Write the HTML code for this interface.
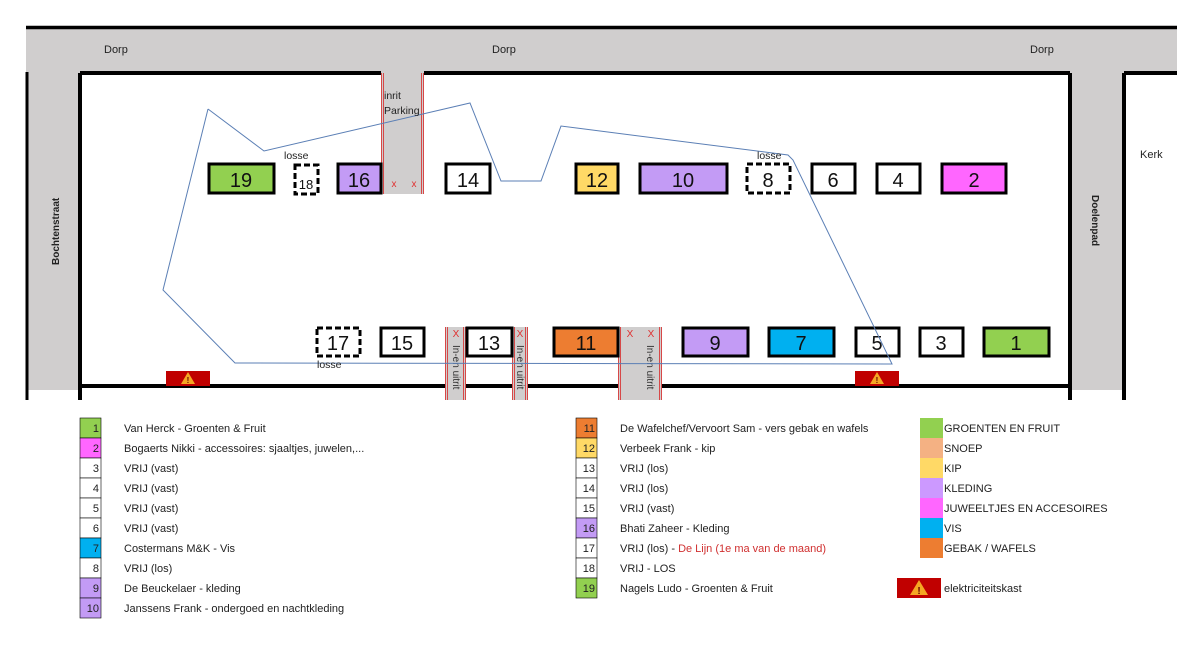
<!DOCTYPE html>
<html><head><meta charset="utf-8"><style>
html,body{margin:0;padding:0;background:#fff;}
svg{display:block;font-family:"Liberation Sans",sans-serif;}
.n{font-size:20px;text-anchor:middle;fill:#111;}
.l{font-size:11px;fill:#222;}
.c{font-size:11px;fill:#222;text-anchor:end;}
</style></head><body>
<svg width="1200" height="657" viewBox="0 0 1200 657">
<defs>
<g id="warn"><rect x="-22" y="0" width="44" height="15" fill="#c00000"/><polygon points="0,1 -7,13 7,13" fill="#f5a623"/><text x="0" y="12" font-size="8" text-anchor="middle" fill="#600" font-weight="bold">!</text></g>
</defs>
<rect x="26" y="27" width="1151" height="46" fill="#d0cece"/>
<rect x="26" y="27" width="54" height="363" fill="#d0cece"/>
<rect x="1070" y="27" width="54" height="363" fill="#d0cece"/>
<rect x="381" y="72" width="43" height="122" fill="#d0cece"/>
<line x1="26" y1="27.5" x2="1177" y2="27.5" stroke="#000" stroke-width="3.5"/>
<g stroke="#000" stroke-width="4" fill="none">
<line x1="80" y1="73" x2="381" y2="73"/>
<line x1="424" y1="73" x2="1070" y2="73"/>
<line x1="1124" y1="73" x2="1177" y2="73"/>
<line x1="80" y1="73" x2="80" y2="400"/>
<line x1="1070" y1="73" x2="1070" y2="400"/>
<line x1="1124" y1="73" x2="1124" y2="400"/>
<line x1="80" y1="386" x2="445" y2="386"/>
<line x1="466" y1="386" x2="512" y2="386"/>
<line x1="528" y1="386" x2="618" y2="386"/>
<line x1="662" y1="386" x2="1070" y2="386"/>
</g>
<line x1="27" y1="72" x2="27" y2="400" stroke="#000" stroke-width="3"/>
<rect x="445" y="327" width="21" height="73" fill="#d0cece"/>
<rect x="512" y="327" width="16" height="73" fill="#d0cece"/>
<rect x="618" y="327" width="44" height="73" fill="#d0cece"/>
<g stroke="#d83a3a" stroke-width="0.9">
<line x1="381.5" y1="73" x2="381.5" y2="194"/><line x1="383.5" y1="73" x2="383.5" y2="194"/>
<line x1="421.5" y1="73" x2="421.5" y2="194"/><line x1="423.5" y1="73" x2="423.5" y2="194"/>
<line x1="445.5" y1="327" x2="445.5" y2="400"/><line x1="447.5" y1="327" x2="447.5" y2="400"/>
<line x1="463.5" y1="327" x2="463.5" y2="400"/><line x1="465.5" y1="327" x2="465.5" y2="400"/>
<line x1="512.5" y1="327" x2="512.5" y2="400"/><line x1="514.5" y1="327" x2="514.5" y2="400"/>
<line x1="525.5" y1="327" x2="525.5" y2="400"/><line x1="527.5" y1="327" x2="527.5" y2="400"/>
<line x1="618.5" y1="327" x2="618.5" y2="400"/><line x1="620.5" y1="327" x2="620.5" y2="400"/>
<line x1="659.5" y1="327" x2="659.5" y2="400"/><line x1="661.5" y1="327" x2="661.5" y2="400"/>
</g>
<g fill="#e03030" font-size="10" text-anchor="middle">
<text x="394" y="187">x</text><text x="414" y="187">x</text>
<text x="456" y="337">X</text><text x="520" y="337">X</text>
<text x="630" y="337">X</text><text x="651" y="337">X</text>
</g>
<g font-size="10" fill="#333">
<text transform="translate(453,345) rotate(90)">In-en uitrit</text>
<text transform="translate(517,345) rotate(90)">In-en uitrit</text>
<text transform="translate(647,345) rotate(90)">In-en uitrit</text>
</g>
<g stroke="#000" stroke-width="3">
<rect x="209" y="164" width="65" height="29" fill="#92d050"/>
<rect x="338" y="164" width="43" height="29" fill="#c39bf5"/>
<rect x="446" y="164" width="44" height="29" fill="#fff"/>
<rect x="576" y="164" width="42" height="29" fill="#ffd966"/>
<rect x="640" y="164" width="87" height="29" fill="#c39bf5"/>
<rect x="812" y="164" width="43" height="29" fill="#fff"/>
<rect x="877" y="164" width="43" height="29" fill="#fff"/>
<rect x="942" y="164" width="64" height="29" fill="#ff66ff"/>
<rect x="381" y="328" width="43" height="28" fill="#fff"/>
<rect x="467" y="328" width="45" height="28" fill="#fff"/>
<rect x="554" y="328" width="64" height="28" fill="#ed7d31"/>
<rect x="683" y="328" width="65" height="28" fill="#c39bf5"/>
<rect x="769" y="328" width="65" height="28" fill="#00b0f0"/>
<rect x="856" y="328" width="43" height="28" fill="#fff"/>
<rect x="920" y="328" width="43" height="28" fill="#fff"/>
<rect x="984" y="328" width="65" height="28" fill="#92d050"/>
</g>
<g stroke="#000" stroke-width="3" stroke-dasharray="6,3" fill="#fff">
<rect x="295" y="165" width="23" height="29"/>
<rect x="747" y="164" width="43" height="29"/>
<rect x="317" y="328" width="43" height="28"/>
</g>
<g class="n">
<text x="241" y="187" class="n">19</text><text x="306" y="189" style="font-size:13px">18</text>
<text x="359" y="187" class="n">16</text><text x="468" y="187" class="n">14</text>
<text x="597" y="187" class="n">12</text><text x="683" y="187" class="n">10</text>
<text x="768" y="187" class="n">8</text><text x="833" y="187" class="n">6</text>
<text x="898" y="187" class="n">4</text><text x="974" y="187" class="n">2</text>
<text x="338" y="350" class="n">17</text><text x="402" y="350" class="n">15</text>
<text x="489" y="350" class="n">13</text><text x="586" y="350" class="n">11</text>
<text x="715" y="350" class="n">9</text><text x="801" y="350" class="n">7</text>
<text x="877" y="350" class="n">5</text><text x="941" y="350" class="n">3</text>
<text x="1016" y="350" class="n">1</text>
</g>
<use href="#warn" x="188" y="371"/>
<use href="#warn" x="877" y="371"/>
<polyline points="208,109 264,151 470,103 501,181 541,181 561,126 788,155 793,160 892,364 235,363 163,290 208,109" fill="none" stroke="#5b7fb5" stroke-width="1"/>
<g font-size="11" fill="#222">
<text x="104" y="53">Dorp</text><text x="492" y="53">Dorp</text><text x="1030" y="53">Dorp</text>
<text x="1140" y="158">Kerk</text>
<text x="384" y="99" font-size="10.5">inrit</text><text x="384" y="114" font-size="10.5">Parking</text>
<text x="284" y="159" font-size="10.5">losse</text><text x="757" y="159" font-size="10.5">losse</text><text x="317" y="368" font-size="10.5">losse</text>
<text transform="translate(59,265) rotate(-90)" font-weight="bold" font-size="10">Bochtenstraat</text>
<text transform="translate(1092,195) rotate(90)" font-weight="bold" font-size="10">Doelenpad</text>
</g>
<g stroke="#000" stroke-width="0.6">
<rect x="80" y="418" width="21" height="20" fill="#92d050"/>
<rect x="80" y="438" width="21" height="20" fill="#ff66ff"/>
<rect x="80" y="458" width="21" height="20" fill="#fff"/>
<rect x="80" y="478" width="21" height="20" fill="#fff"/>
<rect x="80" y="498" width="21" height="20" fill="#fff"/>
<rect x="80" y="518" width="21" height="20" fill="#fff"/>
<rect x="80" y="538" width="21" height="20" fill="#00b0f0"/>
<rect x="80" y="558" width="21" height="20" fill="#fff"/>
<rect x="80" y="578" width="21" height="20" fill="#c39bf5"/>
<rect x="80" y="598" width="21" height="20" fill="#c39bf5"/>
<rect x="576" y="418" width="21" height="20" fill="#ed7d31"/>
<rect x="576" y="438" width="21" height="20" fill="#ffd966"/>
<rect x="576" y="458" width="21" height="20" fill="#fff"/>
<rect x="576" y="478" width="21" height="20" fill="#fff"/>
<rect x="576" y="498" width="21" height="20" fill="#fff"/>
<rect x="576" y="518" width="21" height="20" fill="#c39bf5"/>
<rect x="576" y="538" width="21" height="20" fill="#fff"/>
<rect x="576" y="558" width="21" height="20" fill="#fff"/>
<rect x="576" y="578" width="21" height="20" fill="#92d050"/>
</g>
<g>
<text class="c" x="99" y="432">1</text><text class="c" x="99" y="452">2</text><text class="c" x="99" y="472">3</text>
<text class="c" x="99" y="492">4</text><text class="c" x="99" y="512">5</text><text class="c" x="99" y="532">6</text>
<text class="c" x="99" y="552">7</text><text class="c" x="99" y="572">8</text><text class="c" x="99" y="592">9</text>
<text class="c" x="99" y="612">10</text>
<text class="c" x="595" y="432">11</text><text class="c" x="595" y="452">12</text><text class="c" x="595" y="472">13</text>
<text class="c" x="595" y="492">14</text><text class="c" x="595" y="512">15</text><text class="c" x="595" y="532">16</text>
<text class="c" x="595" y="552">17</text><text class="c" x="595" y="572">18</text><text class="c" x="595" y="592">19</text>
</g>
<g class="l">
<text class="l" x="124" y="432">Van Herck - Groenten &amp; Fruit</text>
<text class="l" x="124" y="452">Bogaerts Nikki - accessoires: sjaaltjes, juwelen,...</text>
<text class="l" x="124" y="472">VRIJ (vast)</text>
<text class="l" x="124" y="492">VRIJ (vast)</text>
<text class="l" x="124" y="512">VRIJ (vast)</text>
<text class="l" x="124" y="532">VRIJ (vast)</text>
<text class="l" x="124" y="552">Costermans M&amp;K - Vis</text>
<text class="l" x="124" y="572">VRIJ (los)</text>
<text class="l" x="124" y="592">De Beuckelaer - kleding</text>
<text class="l" x="124" y="612">Janssens Frank - ondergoed en nachtkleding</text>
<text class="l" x="620" y="432">De Wafelchef/Vervoort Sam - vers gebak en wafels</text>
<text class="l" x="620" y="452">Verbeek Frank - kip</text>
<text class="l" x="620" y="472">VRIJ (los)</text>
<text class="l" x="620" y="492">VRIJ (los)</text>
<text class="l" x="620" y="512">VRIJ (vast)</text>
<text class="l" x="620" y="532">Bhati Zaheer - Kleding</text>
<text class="l" x="620" y="552">VRIJ (los) - <tspan fill="#d03030">De Lijn (1e ma van de maand)</tspan></text>
<text class="l" x="620" y="572">VRIJ - LOS</text>
<text class="l" x="620" y="592">Nagels Ludo - Groenten &amp; Fruit</text>
</g>
<rect x="920" y="418" width="23" height="20" fill="#92d050"/>
<rect x="920" y="438" width="23" height="20" fill="#f4b183"/>
<rect x="920" y="458" width="23" height="20" fill="#ffd966"/>
<rect x="920" y="478" width="23" height="20" fill="#cc99ff"/>
<rect x="920" y="498" width="23" height="20" fill="#ff66ff"/>
<rect x="920" y="518" width="23" height="20" fill="#00b0f0"/>
<rect x="920" y="538" width="23" height="20" fill="#ed7d31"/>
<g class="l">
<text class="l" x="944" y="432">GROENTEN EN FRUIT</text>
<text class="l" x="944" y="452">SNOEP</text>
<text class="l" x="944" y="472">KIP</text>
<text class="l" x="944" y="492">KLEDING</text>
<text class="l" x="944" y="512">JUWEELTJES EN ACCESOIRES</text>
<text class="l" x="944" y="532">VIS</text>
<text class="l" x="944" y="552">GEBAK / WAFELS</text>
<text class="l" x="944" y="592">elektriciteitskast</text>
</g>
<rect x="897" y="578" width="44" height="20" fill="#c00000"/>
<polygon points="919,580 910,595 928,595" fill="#f5a623"/>
<text x="919" y="594" font-size="10" text-anchor="middle" fill="#600" font-weight="bold">!</text>
</svg>
</body></html>
